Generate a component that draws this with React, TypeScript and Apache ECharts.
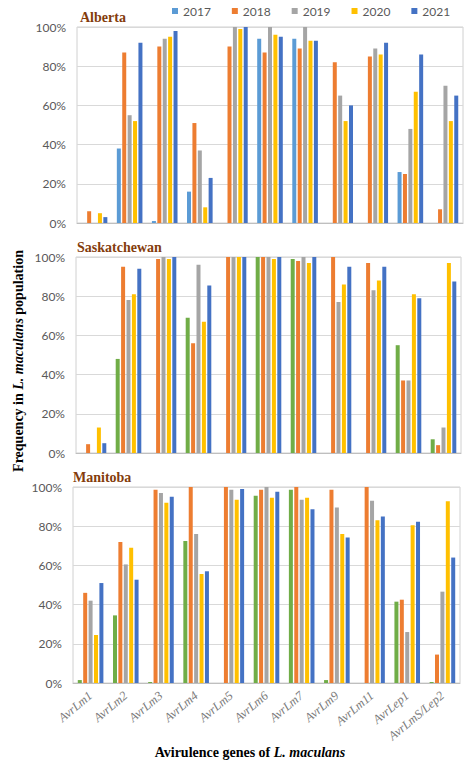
import React, { useEffect, useRef } from "react";
import * as echarts from "echarts";

const categories = ["AvrLm1", "AvrLm2", "AvrLm3", "AvrLm4", "AvrLm5", "AvrLm6", "AvrLm7", "AvrLm9", "AvrLm11", "AvrLep1", "AvrLmS/Lep2"];
const years = ["2017", "2018", "2019", "2020", "2021"];
const yTicks = [0, 20, 40, 60, 80, 100];

const alberta2017 = [0, 38, 1, 16, 0, 94, 94, 0, 0, 26, 0];
const alberta2018 = [6, 87, 90, 51, 90, 87, 89, 82, 85, 25, 7];
const alberta2019 = [0, 55, 94, 37, 100, 100, 100, 65, 89, 48, 70];
const alberta2020 = [5, 52, 95, 8, 99, 96, 93, 52, 86, 67, 52];
const alberta2021 = [3, 92, 98, 23, 100, 95, 93, 60, 92, 86, 65];

const sask2017 = [0, 48, 0, 69, 0, 100, 99, 0, 0, 55, 7];
const sask2018 = [4.5, 95, 99, 56, 100, 100, 98, 100, 97, 37, 4];
const sask2019 = [0, 78, 100, 96, 100, 100, 100, 77, 83, 37, 13];
const sask2020 = [13, 81, 99, 67, 100, 99, 97, 86, 88, 81, 97];
const sask2021 = [5, 94, 100, 85.5, 100, 100, 100, 95, 95, 79, 87.5];

const mb2017 = [1.5, 34.5, 0.5, 72.5, 0, 95.5, 98.6, 1.5, 0, 41.5, 0.5];
const mb2018 = [46, 72, 98.6, 100, 100, 98.6, 100, 98.6, 100, 42.5, 14.5];
const mb2019 = [42, 60.5, 97, 76, 98.6, 100, 93.5, 89.6, 93, 26, 46.6];
const mb2020 = [24.5, 69, 92, 55.6, 93.5, 94.5, 94.5, 76, 83, 80.5, 92.7];
const mb2021 = [51, 52.7, 95, 57, 99, 97.6, 88.6, 74.2, 85, 82.3, 64];

const regions = ["Alberta", "Saskatchewan", "Manitoba"];
const regionData = [
  [alberta2017, alberta2018, alberta2019, alberta2020, alberta2021],
  [sask2017, sask2018, sask2019, sask2020, sask2021],
  [mb2017, mb2018, mb2019, mb2020, mb2021],
];

const colorsAlberta = ["#5B9BD5", "#ED7D31", "#A5A5A5", "#FFC000", "#4472C4"];
const colorsOther = ["#70AD47", "#ED7D31", "#A5A5A5", "#FFC000", "#4472C4"];

export default function App() {
  const ref = useRef<HTMLDivElement>(null);
  useEffect(() => {
    if (!ref.current) return;
    const chart = echarts.init(ref.current, undefined, { renderer: "svg" });
    const grids = [
      { left: 77, right: 11, top: 27, height: 196 },
      { left: 76, right: 13, top: 257, height: 196 },
      { left: 73, right: 14, top: 487, height: 196 },
    ];
    const titlePos = [
      { x: 80, y: 17 },
      { x: 77, y: 247 },
      { x: 73, y: 477 },
    ];
    const series: any[] = [];
    regionData.forEach((rd, gi) => {
      rd.forEach((vals, si) => {
        series.push({
          type: "bar",
          name: years[si],
          xAxisIndex: gi,
          yAxisIndex: gi,
          data: vals,
          barWidth: 4,
          barGap: "35%",
          itemStyle: { color: gi === 0 ? colorsAlberta[si] : colorsOther[si] },
        });
      });
    });
    const option: any = {
      animation: false,
      backgroundColor: "#ffffff",
      grid: grids.map((g) => ({ ...g, show: true, borderColor: "#D0D0D0", borderWidth: 1, containLabel: false })),
      legend: {
        top: 5,
        left: 172,
        padding: 0,
        itemWidth: 6,
        itemHeight: 6,
        itemGap: 21,
        icon: "rect",
        textStyle: { color: "#595959", fontSize: 12, fontFamily: "Lato" },
        data: years.map((y, i) => ({ name: y, itemStyle: { color: colorsAlberta[i] } })),
      },
      xAxis: grids.map((_, gi) => ({
        type: "category",
        gridIndex: gi,
        data: categories,
        axisLine: { show: true, lineStyle: { color: "#BFBFBF" } },
        axisTick: { show: false },
        axisLabel: gi === 2
          ? {
              show: true,
              rotate: 40,
              interval: 0,
              margin: 11,
              color: "#7A7A7A",
              fontSize: 12.5,
              fontFamily: "Liberation Serif",
              fontStyle: "italic",
            }
          : { show: false },
      })),
      yAxis: grids.map((_, gi) => ({
        type: "value",
        gridIndex: gi,
        min: yTicks[0],
        max: yTicks[yTicks.length - 1],
        interval: 20,
        axisLine: { show: false },
        axisTick: { show: false },
        splitLine: { show: true, lineStyle: { color: "#D9D9D9" } },
        axisLabel: {
          formatter: "{value}%",
          color: "#595959",
          fontSize: 12,
          fontFamily: "Lato",
          margin: 11,
        },
      })),
      graphic: [
        ...regions.map((r, i) => ({
          type: "text",
          x: titlePos[i].x,
          y: titlePos[i].y,
          style: {
            text: r,
            font: 'bold 14px "Liberation Serif"',
            fill: "#843C0C",
            verticalAlign: "middle",
            align: "left",
          },
        })),
        {
          type: "text",
          x: 18,
          y: 361,
          rotation: Math.PI / 2,
          style: {
            text: "{b|Frequency in }{i|L. maculans}{b| population}",
            align: "center",
            verticalAlign: "middle",
            fill: "#000",
            rich: {
              b: { font: 'bold 14px "Liberation Serif"', fill: "#000" },
              i: { font: 'italic bold 14px "Liberation Serif"', fill: "#000" },
            },
          },
        },
        {
          type: "text",
          x: 250,
          y: 752,
          style: {
            text: "{b|Avirulence genes of }{i|L. maculans}",
            align: "center",
            verticalAlign: "middle",
            fill: "#000",
            rich: {
              b: { font: 'bold 14px "Liberation Serif"', fill: "#000" },
              i: { font: 'italic bold 14px "Liberation Serif"', fill: "#000" },
            },
          },
        },
      ],
      series,
    };
    chart.setOption(option);
    return () => chart.dispose();
  }, []);
  return (
    <div
      ref={ref}
      style={{ position: "fixed", left: 0, top: 0, width: 474, height: 768, background: "#fff" }}
    />
  );
}
